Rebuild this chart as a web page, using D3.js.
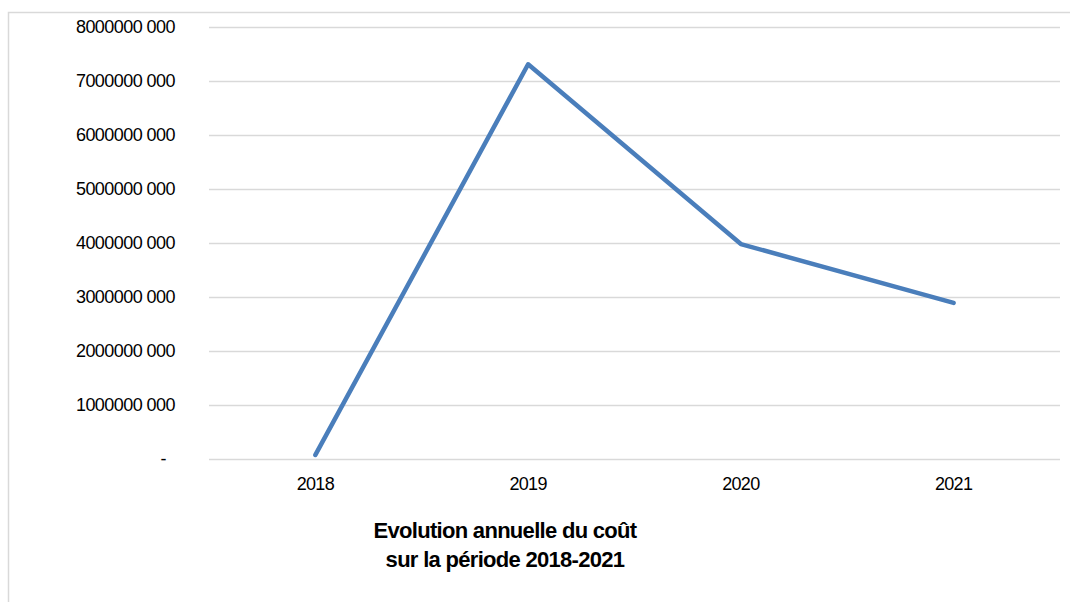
<!DOCTYPE html>
<html>
<head>
<meta charset="utf-8">
<script src="https://cdn.jsdelivr.net/npm/d3@7"></script>
<style>
  body { margin: 0; background: #fff; }
  svg { display: block; }
</style>
</head>
<body>
<script>
// data
var years = ["2018", "2019", "2020", "2021"];
var costs = [75000000, 7310000000, 3980000000, 2890000000];
var yTicks = [0, 1e9, 2e9, 3e9, 4e9, 5e9, 6e9, 7e9, 8e9];
var titleLines = ["Evolution annuelle du coût", "sur la période 2018-2021"];

var w = 1070, h = 602;
var plotLeft = 209, plotRight = 1060, plotTop = 27, plotBottom = 459;

var svg = d3.select("body").append("svg")
  .attr("width", w)
  .attr("height", h);

// chart frame
svg.append("rect")
  .attr("x", 8.5).attr("y", 12.5)
  .attr("width", 1070).attr("height", 600)
  .attr("fill", "none")
  .attr("stroke", "#d9d9d9")
  .attr("stroke-width", 1.5);

var xScale = d3.scaleBand()
  .domain(years)
  .range([plotLeft, plotRight]);

var yScale = d3.scaleLinear()
  .domain([0, 8e9])
  .range([plotBottom, plotTop]);

// label format: "8000000 000", zero shown as "-"
function fmt(d) {
  if (d === 0) return "-";
  var s = String(Math.round(d));
  return s.slice(0, -3) + " " + s.slice(-3);
}

// y axis (gridlines + labels)
var yAxis = d3.axisLeft(yScale)
  .tickValues(yTicks)
  .tickSize(-(plotRight - plotLeft))
  .tickPadding(34)
  .tickFormat(fmt);

var gy = svg.append("g")
  .attr("transform", "translate(" + plotLeft + ",0)")
  .call(yAxis);
gy.select(".domain").remove();
gy.selectAll(".tick line")
  .attr("stroke", "#d9d9d9")
  .attr("stroke-width", 1.5);
gy.selectAll(".tick text")
  .attr("font-family", "Liberation Sans, Arial, sans-serif")
  .attr("font-size", "18px")
  .attr("letter-spacing", "-0.55px")
  .attr("fill", "#000")
  .attr("dx", function(d) { return d === 0 ? -9 : 0; }); // accounting "-" sits left

// x axis labels
var xAxis = d3.axisBottom(xScale).tickSize(0).tickPadding(18);
var gx = svg.append("g")
  .attr("transform", "translate(0," + plotBottom + ")")
  .call(xAxis);
gx.select(".domain").remove();
gx.selectAll(".tick text")
  .attr("font-family", "Liberation Sans, Arial, sans-serif")
  .attr("font-size", "18px")
  .attr("letter-spacing", "-0.7px")
  .attr("fill", "#000");

// line
var line = d3.line()
  .x(function(d, i) { return xScale(years[i]) + xScale.bandwidth() / 2; })
  .y(function(d) { return yScale(d); });

svg.append("path")
  .datum(costs)
  .attr("d", line)
  .attr("fill", "none")
  .attr("stroke", "#4a7ebb")
  .attr("stroke-width", 4.5)
  .attr("stroke-linejoin", "round")
  .attr("stroke-linecap", "round");

// title
svg.selectAll(".title")
  .data(titleLines)
  .enter()
  .append("text")
  .attr("class", "title")
  .attr("x", 505)
  .attr("y", function(d, i) { return 538 + i * 29; })
  .attr("text-anchor", "middle")
  .attr("font-family", "Liberation Sans, Arial, sans-serif")
  .attr("font-weight", "bold")
  .attr("font-size", "22px")
  .attr("letter-spacing", "-0.7px")
  .attr("fill", "#000")
  .text(function(d) { return d; });
</script>
</body>
</html>
